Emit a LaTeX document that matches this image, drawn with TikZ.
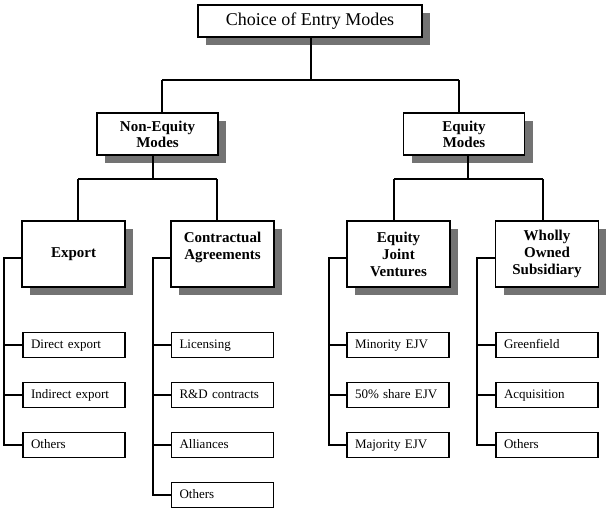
\documentclass[tikz,border=0pt]{standalone}
\usepackage{fontspec}
\setmainfont{Liberation Serif}
\usetikzlibrary{shadows}
\begin{document}
\begin{tikzpicture}[x=1pt,y=-1pt,
  mainbox/.style={draw, line width=1.8pt, fill=white, inner sep=0pt, align=center,
    drop shadow={shadow xshift=8pt, shadow yshift=-8pt, fill=black!55, opacity=1}},
  topbox/.style={mainbox, minimum width=224pt, minimum height=32pt, font=\fontsize{18}{20}\selectfont},
  midbox/.style={mainbox, minimum width=121pt, minimum height=42pt, font=\bfseries\fontsize{15}{16}\selectfont},
  catbox/.style={mainbox, minimum width=103pt, minimum height=66pt, font=\bfseries\fontsize{15}{17}\selectfont},
  leafbox/.style={draw, line width=1.1pt, fill=white, minimum width=102pt, minimum height=25pt,
    inner sep=0pt, text width=86pt, text height=9pt, text depth=3pt, align=left,
    font=\fontsize{13}{15}\selectfont},
  conn/.style={line width=1.1pt},
  stem/.style={line width=2pt},
]
\useasboundingbox (0,0) rectangle (606,509);

% boxes
\node[topbox] (top) at (310,21) {Choice of Entry Modes};
\node[midbox] (neq) at (157.5,134) {Non-Equity\\Modes};
\node[midbox] (eq) at (464,134) {Equity\\Modes};
\node[catbox] (exp) at (73.5,254) {Export};
\node[catbox] (con) at (222.5,254) {Contractual\\Agreements\\\phantom{X}};
\node[catbox] (ejv) at (398.5,254) {Equity\\Joint\\Ventures};
\node[catbox] (wos) at (547,254) {Wholly\\Owned\\Subsidiary};

% leaves
\node[leafbox] (e1) at (74,345) {Direct export};
\node[leafbox] (e2) at (74,395) {Indirect export};
\node[leafbox] (e3) at (74,445) {Others};
\node[leafbox] (c1) at (222.5,345) {Licensing};
\node[leafbox] (c2) at (222.5,395) {R\&D contracts};
\node[leafbox] (c3) at (222.5,445) {Alliances};
\node[leafbox] (c4) at (222.5,495) {Others};
\node[leafbox] (j1) at (398,345) {Minority EJV};
\node[leafbox] (j2) at (398,395) {50\% share EJV};
\node[leafbox] (j3) at (398,445) {Majority EJV};
\node[leafbox] (w1) at (547,345) {Greenfield};
\node[leafbox] (w2) at (547,395) {Acquisition};
\node[leafbox] (w3) at (547,445) {Others};

% level 1 connectors
\coordinate (t1) at (311,80);
\coordinate (tl) at (162,80);
\coordinate (tr) at (459,80);
\draw[line width=2.5pt] (top.south -| t1) -- (t1);
\draw[conn] (tl) -- (tr);
\draw[conn] (tl) -- (tl |- neq.north);
\draw[conn] (tr) -- (tr |- eq.north);

% level 2 connectors
\coordinate (nl) at (78,179);
\coordinate (nr) at (217,179);
\coordinate (ns) at (153,179);
\draw[stem] (neq.south -| ns) -- (ns);
\draw[conn] (nl) -- (nr);
\draw[conn] (nl) -- (nl |- exp.north);
\draw[conn] (nr) -- (nr |- con.north);

\coordinate (ql) at (394,179);
\coordinate (qr) at (543,179);
\coordinate (qs) at (468,179);
\draw[stem] (eq.south -| qs) -- (qs);
\draw[conn] (ql) -- (qr);
\draw[conn] (ql) -- (ql |- ejv.north);
\draw[conn] (qr) -- (qr |- wos.north);

% brackets
\coordinate (eb) at (4,258);
\draw[conn] (exp.west |- eb) -- (eb) |- (e3.west);
\draw[conn] (eb) |- (e1.west);
\draw[conn] (eb) |- (e2.west);

\coordinate (cb) at (153,258);
\draw[conn] (con.west |- cb) -- (cb) |- (c4.west);
\draw[conn] (cb) |- (c1.west);
\draw[conn] (cb) |- (c2.west);
\draw[conn] (cb) |- (c3.west);

\coordinate (jb) at (329,258);
\draw[conn] (ejv.west |- jb) -- (jb) |- (j3.west);
\draw[conn] (jb) |- (j1.west);
\draw[conn] (jb) |- (j2.west);

\coordinate (wb) at (477,258);
\draw[conn] (wos.west |- wb) -- (wb) |- (w3.west);
\draw[conn] (wb) |- (w1.west);
\draw[conn] (wb) |- (w2.west);
\end{tikzpicture}
\end{document}
